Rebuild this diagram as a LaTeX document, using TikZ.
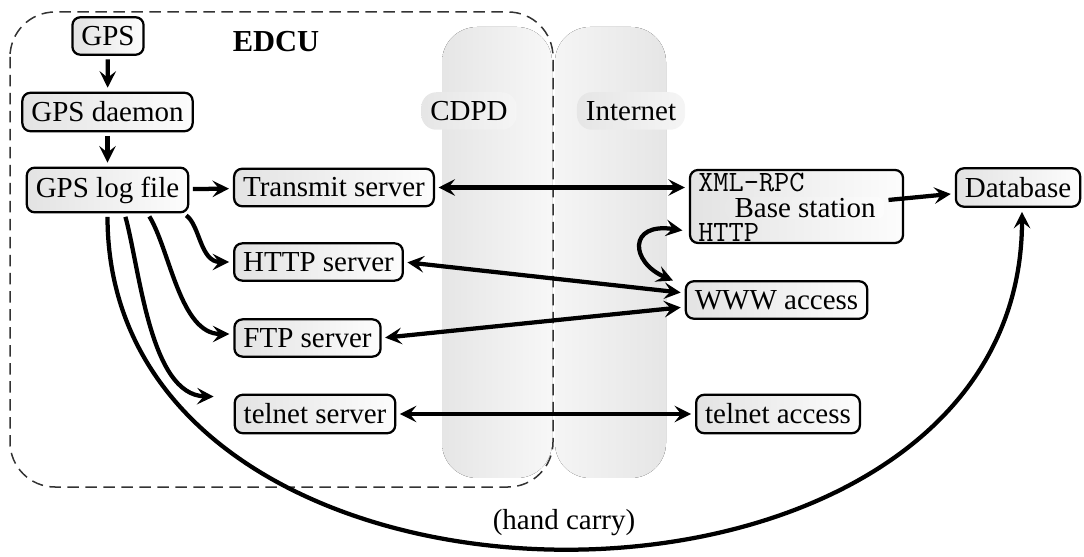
\documentclass[tikz,border=0pt]{standalone}
\usepackage{fontspec}
\setmainfont{Liberation Serif}
\usetikzlibrary{arrows.meta,calc}

\begin{document}
\begin{tikzpicture}[x=0.4pt,y=-0.4pt,
  font=\fontsize{11.6}{13.9}\selectfont,
  box/.style={draw, line width=0.9pt, rounded corners=3.2pt,
    left color=black!11, right color=black!1, inner sep=3.6pt},
  plate/.style={left color=black!9, right color=black!1, rounded corners=3pt, inner xsep=3.6pt, inner ysep=0.5pt},
  mono/.style={font=\fontsize{11.8}{13}\selectfont\ttfamily, inner sep=0.3pt, anchor=west},
  tip/.tip={Stealth[length=6.6pt,width=6.6pt,inset=2.6pt]},
  link/.style={line width=1.7pt, -tip, shorten >=1.6pt, shorten <=1.4pt},
  dlink/.style={link, tip-tip},
  band/.style={rounded corners=14pt},
  tag/.style={rounded corners=6pt, left color=black!10, right color=black!4, inner sep=3.6pt, minimum height=15pt},
  edcubox/.style={draw=black!80, line width=0.6pt, dash pattern=on 4.6pt off 2.6pt, rounded corners=18pt}
]
\useasboundingbox (0,0) rectangle (1084,557);

% network bands
\fill[band, left color=black!10, right color=black!3] (442,27) rectangle (552,478);
\fill[band, left color=black!4, right color=black!10] (555,27) rectangle (666,478);

% EDCU enclosure
\draw[edcubox] (10,12) rectangle (553,487);
\node[font=\fontsize{12.2}{14}\selectfont\bfseries] (edcu) at (276,42) {EDCU};

% band labels
\node[tag] (cdpd) at (469,111) {CDPD};
\node[tag] (inet) at (631,111) {Internet};

% EDCU components
\node[box] (gps) at (108,36) {GPS};
\node[box] (daemon) at (107.5,112) {GPS daemon};
\node[box] (log) at (107.5,190) {GPS log file};
\node[box] (transmit) at (334,187.5) {Transmit server};
\node[box] (http) at (318.5,262) {HTTP server};
\node[box] (ftp) at (307.5,338) {FTP server};
\node[box] (telnet) at (315,414) {telnet server};

% remote side
\node[box, minimum width=85.2pt, minimum height=29.2pt] (base) at (796.5,206.5) {};
\node[plate] (bst) at (805,208) {Base station};
\node[mono] (xr) at (697,182.5) {XML-RPC};
\node[mono] (hl) at (697,232) {HTTP};
\node[box] (db) at (1018,187.5) {Database};
\node[box] (www) at (776.5,300) {WWW access};
\node[box] (telacc) at (778,414) {telnet access};

% connectors
\draw[link] (gps) -- (daemon);
\draw[link] (daemon) -- (log);
\draw[link] (log) -- (transmit);
\draw[dlink] (transmit.east) -- (transmit.east -| base.west);
\draw[link] (bst) -- (db);
\draw[dlink] ($(base.west |- hl.west)+(-3,-1)$) .. controls (628,222) and (630,262) .. ($(www.north west)+(-8,2)$);
\draw[dlink] (http.east) -- ($(www.west)+(0,-7)$);
\draw[dlink] (ftp.east) -- ($(www.west)+(0,7)$);
\draw[dlink] (telnet) -- (telacc);

\draw[link] ($(log.south east)+(-6,0)$) .. controls (200,225) and (200,262) .. (http.west);
\draw[link] ($(log.south)+(40,0)$) .. controls (170,250) and (180,334) .. ($(ftp.west)+(0,-4)$);
\draw[link] ($(log.south)+(17,0)$) .. controls (140,270) and (150,395) .. ($(telnet.north west)+(-16,3)$);
\draw[link] (log.south) .. controls (108,660) and (1022,660) .. ($(db.south)+(4,0)$);
\node (hc) at (564,523) {(hand carry)};
\end{tikzpicture}
\end{document}
